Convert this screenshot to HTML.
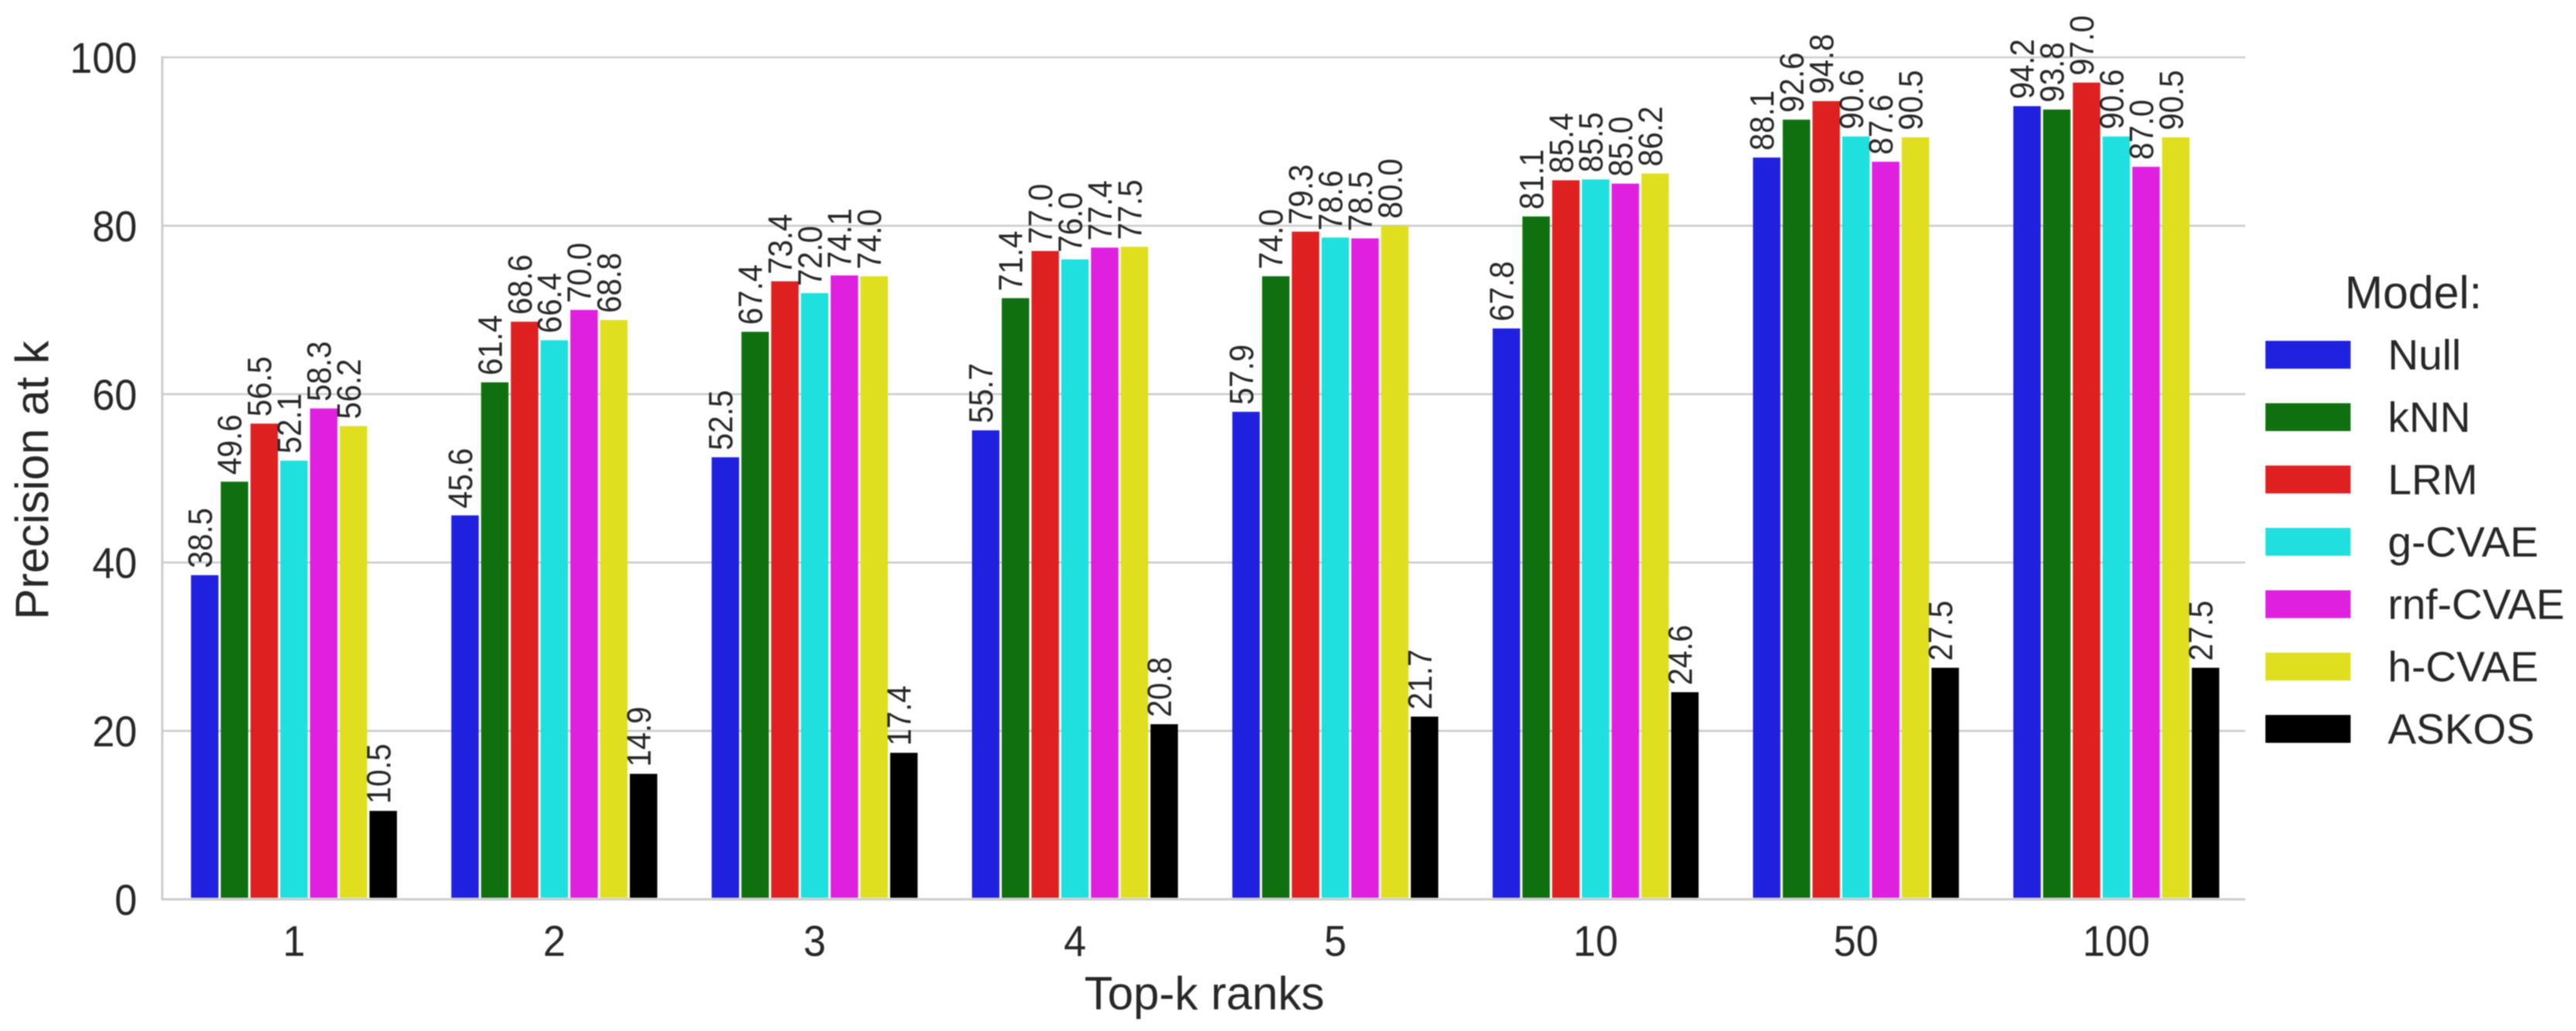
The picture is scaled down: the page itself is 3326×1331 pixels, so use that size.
<!DOCTYPE html>
<html lang="en">
<head>
<meta charset="utf-8">
<title>Precision at k by model</title>
<style>
html,body{margin:0;padding:0;background:#fff;width:3326px;height:1331px;overflow:hidden}
svg{display:block;font-family:"Liberation Sans",Arial,sans-serif;fill:#262626;filter:blur(0.7px)}
</style>
</head>
<body>
<svg id="chart" xmlns="http://www.w3.org/2000/svg" width="3326" height="1331" viewBox="0 0 3326 1331">
<rect x="0" y="0" width="3326" height="1331" fill="#ffffff"/>
<g id="grid"></g>
<g id="bars"></g>
<g id="spines"></g>
<g id="yticks"></g>
<g id="xticks"></g>
<g id="values"></g>
<text transform="translate(62,800) rotate(-90)" font-size="60">Precision at k</text>
<text x="1555" y="1303" text-anchor="middle" font-size="60">Top-k ranks</text>
<g id="legend">
<text x="3116" y="398" text-anchor="middle" font-size="59">Model:</text>
</g>
</svg>
<script>
const categories = ["1", "2", "3", "4", "5", "10", "50", "100"];
const models = ["Null", "kNN", "LRM", "g-CVAE", "rnf-CVAE", "h-CVAE", "ASKOS"];
const colors = ["#2020df", "#107010", "#df2020", "#20dfdf", "#df20df", "#dfdf20", "#000000"];
const yTicks = [0, 20, 40, 60, 80, 100];
const nullValues = [38.5, 45.6, 52.5, 55.7, 57.9, 67.8, 88.1, 94.2];
const knnValues = [49.6, 61.4, 67.4, 71.4, 74.0, 81.1, 92.6, 93.8];
const lrmValues = [56.5, 68.6, 73.4, 77.0, 79.3, 85.4, 94.8, 97.0];
const gCvaeValues = [52.1, 66.4, 72.0, 76.0, 78.6, 85.5, 90.6, 90.6];
const rnfCvaeValues = [58.3, 70.0, 74.1, 77.4, 78.5, 85.0, 87.6, 87.0];
const hCvaeValues = [56.2, 68.8, 74.0, 77.5, 80.0, 86.2, 90.5, 90.5];
const askosValues = [10.5, 14.9, 17.4, 20.8, 21.7, 24.6, 27.5, 27.5];
const series = [nullValues, knnValues, lrmValues, gCvaeValues, rnfCvaeValues, hCvaeValues, askosValues];

const NS = "http://www.w3.org/2000/svg";
const plot = { left: 211.5, right: 2900.5, top: 74, bottom: 1161 };
const yMax = 100;
const groupWidth = 0.8;

function yScale(v) {
  return plot.bottom - (v / yMax) * (plot.bottom - plot.top);
}
function bandSize() {
  return (plot.right - plot.left) / categories.length;
}
function xCenter(i) {
  return plot.left + bandSize() * (i + 0.5);
}
function barSlot() {
  return bandSize() * groupWidth / models.length;
}
function barX(i, s) {
  return xCenter(i) - bandSize() * groupWidth / 2 + s * barSlot();
}
function make(tag, parentId, attrs, text) {
  const el = document.createElementNS(NS, tag);
  for (const k in attrs) el.setAttribute(k, attrs[k]);
  if (text !== undefined) el.textContent = text;
  document.getElementById(parentId).appendChild(el);
  return el;
}

yTicks.forEach(function (t) {
  const y = yScale(t);
  if (t > 0) {
    const line = make("line", "grid", { x1: 209, x2: 2899, y1: y, y2: y, stroke: "#cccccc", "stroke-width": 2.6 });
    
    
  }
  const label = make("text", "yticks", {
    transform: "translate(177," + (y + 20) + ") scale(0.93,1)",
    "text-anchor": "end",
    "font-size": 56
  }, String(t));
  
  
});

const spineLeft = make("line", "spines", { x1: 209.5, x2: 209.5, y1: 72.5, y2: 1162.5, stroke: "#cccccc", "stroke-width": 3 });


const spineBottom = make("line", "spines", { x1: 208, x2: 2899, y1: plot.bottom, y2: plot.bottom, stroke: "#cccccc", "stroke-width": 3 });



categories.forEach(function (c, i) {
  const label = make("text", "xticks", {
    transform: "translate(" + xCenter(i) + ",1234) scale(0.93,1)",
    "text-anchor": "middle",
    "font-size": 56
  }, c);
  
  
});

series.forEach(function (values, s) {
  values.forEach(function (v, i) {
    const inset = 1.5;
    const top = yScale(v);
    const bar = make("rect", "bars", {
      x: barX(i, s) + inset,
      y: top,
      width: barSlot() - inset * 2,
      height: plot.bottom - 2 - top,
      fill: colors[s]
    });
    
    
    const cx = barX(i, s) + barSlot() / 2;
    const tx = cx + 9;
    const ty = top - 9;
    const val = make("text", "values", {
      transform: "translate(" + tx + "," + ty + ") rotate(-90) scale(1,1.1)",
      "font-size": 40
    }, v.toFixed(1));
    
    
  });
});

models.forEach(function (m, s) {
  const cy = 458 + s * 80.5;
  const swatch = make("rect", "legend", { x: 2925, y: cy - 18, width: 110, height: 36, fill: colors[s] });
  
  
  const label = make("text", "legend", { x: 3083, y: cy + 19, "font-size": 55 }, m);
  
  
});
</script>
</body>
</html>
